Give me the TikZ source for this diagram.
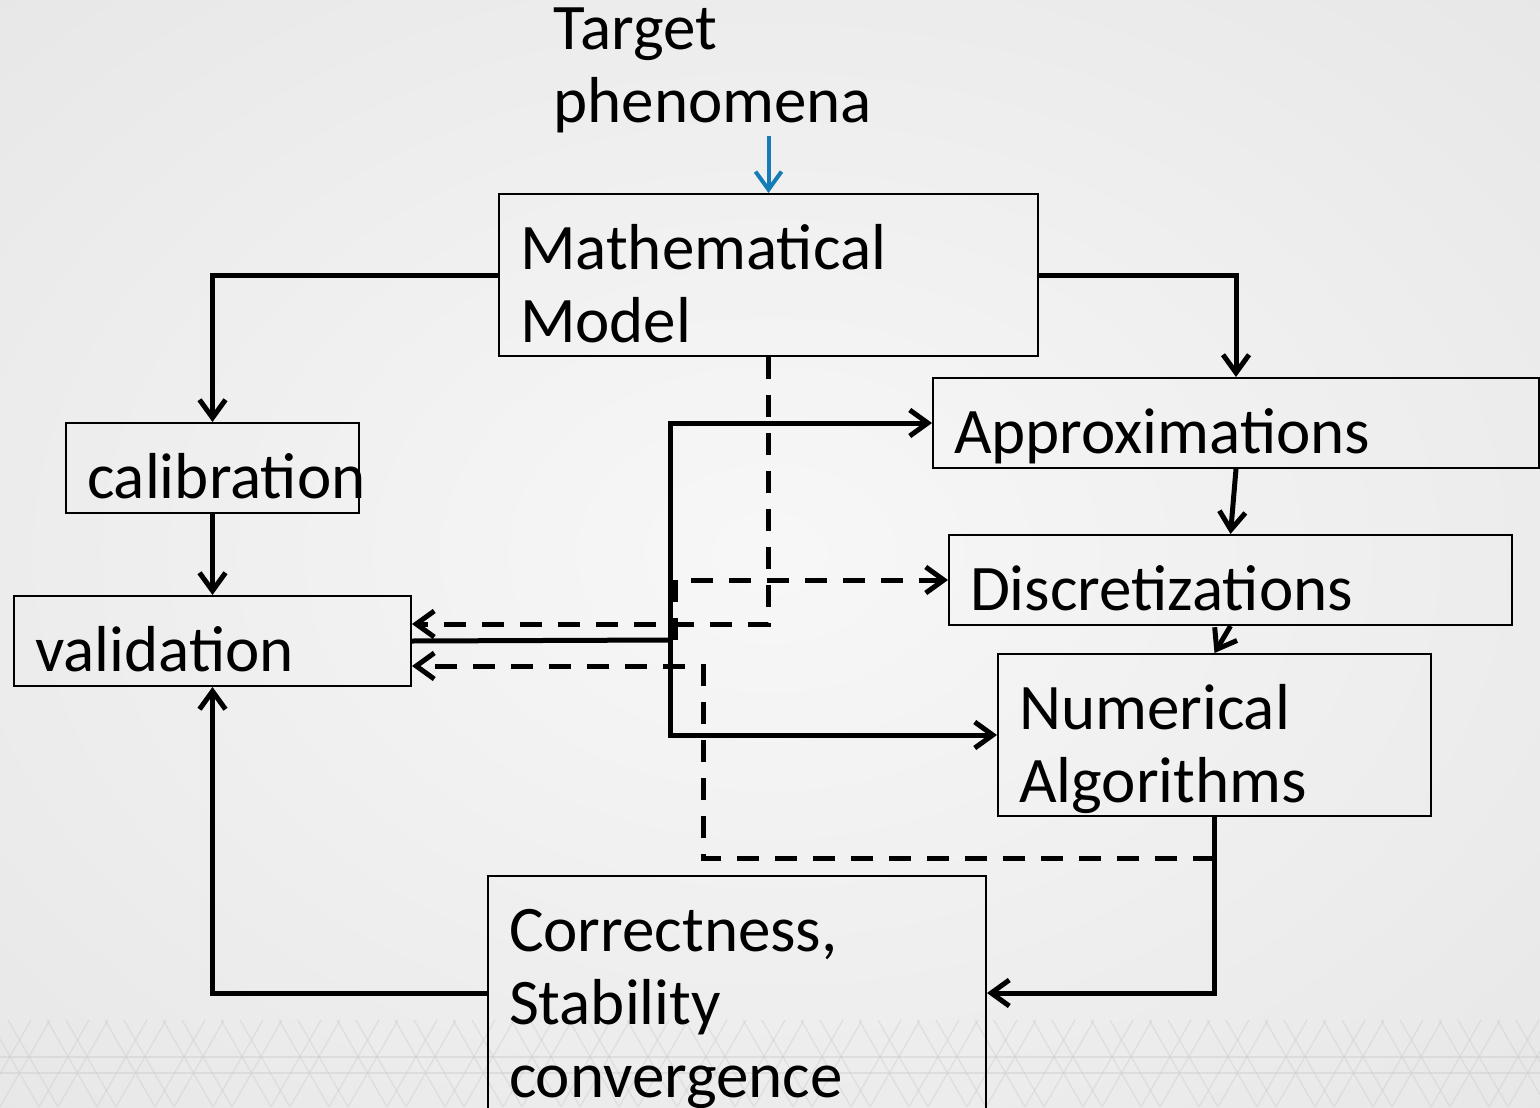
\documentclass[tikz,border=0pt]{standalone}
\usepackage{fontspec}
\setmainfont{Carlito}
\usetikzlibrary{arrows.meta,calc}
\definecolor{arrowblue}{RGB}{22,124,184}
\pgfdeclareradialshading{slidebg}{\pgfpoint{0bp}{0bp}}{color(0bp)=(white!97!black); color(45bp)=(white!89!black); color(100bp)=(white!89!black)}
\hyphenpenalty=10000

\begin{document}
\begin{tikzpicture}[x=0.5pt,y=-0.5pt,>={Straight Barb[length=9pt,width=13pt]},line width=2.5pt,
    box/.style={draw,line width=1pt,anchor=north west,inner xsep=10.5pt,inner ysep=0pt,
      align=left,text height=37.5pt,font=\fontsize{32.5}{36.5}\selectfont},
    onebox/.style={box,text depth=7.5pt},
    twobox/.style={box,text depth=43.5pt},
    dashedarrow/.style={->,dash pattern=on 11pt off 8pt},
    bluearrow/.style={->,draw=arrowblue,line width=2pt}]
        % slide background
        \path[use as bounding box] (0,0) rectangle (1540,1107);
        \clip (0,0) rectangle (1540,1107);
        \shade[shading=slidebg] (0,0) rectangle (1540,1107);
        \foreach \i in {-2,...,28}
            \draw[white!80!black,line width=0.6pt,opacity=0.45] (\i*58,1107) -- ++(50,-87) (\i*58,1107) -- ++(-50,-87)
                (\i*58+39,1107) -- ++(50,-87) (\i*58+39,1107) -- ++(-50,-87);
        \draw[white!80!black,line width=0.6pt,opacity=0.45] (0,1057) -- (1540,1057) (0,1073) -- (1540,1073);

        \node[anchor=base west,inner sep=0pt,text width=170pt,align=left,font=\fontsize{32.5}{36.5}\selectfont] (target) at (551,50) {Target\\phenomena};
        \node[twobox,text width=248.5pt] (mm) at (498,193) {Mathematical\\Model};
        \node[onebox,text width=282pt] (approx) at (932,377) {Approximations};
        \node[onebox,text width=125.5pt] (calib) at (65,422) {calibration};
        \node[onebox,text width=260.5pt] (disc) at (948,534) {Discretizations};
        \node[onebox,text width=177.5pt] (valid) at (13,595) {validation};
        \node[twobox,text width=195.5pt] (numalg) at (997,653) {Numerical\\Algorithms};
        \node[box,text depth=79.5pt,text width=228pt] (correct) at (487,875) {Correctness,\\Stability\\convergence};

        \coordinate (hub) at (670,640);
        \coordinate (dashturn) at (703,858);

        \draw[bluearrow] (target.south -| mm.north) -- (mm.north);
        \draw[->] (mm.west) -| (calib.north);
        \draw[->] (mm.east) -| (approx.north);
        \draw[->] (approx.south) -- (disc.north);
        \draw[->] (disc.south) -- (numalg.north);
        \draw[->] (calib) -- (valid);
        \draw[->] (correct.west) -| (valid.south);
        \draw[->] (numalg.south) |- (correct.east);

        \draw (valid.east) -- (hub);
        \draw[->] (hub) |- (approx.west);
        \draw[->] (hub) |- (numalg.west);

        \draw[dashedarrow] (mm.south) |- ($(valid.east)+(0,-17)$);
        \draw[dashedarrow] ($(hub)+(5,0)$) |- (disc.west);
        \draw[dashedarrow] (numalg.south |- dashturn) -- (dashturn) |- ($(valid.east)+(0,25)$);
\end{tikzpicture}
\end{document}
